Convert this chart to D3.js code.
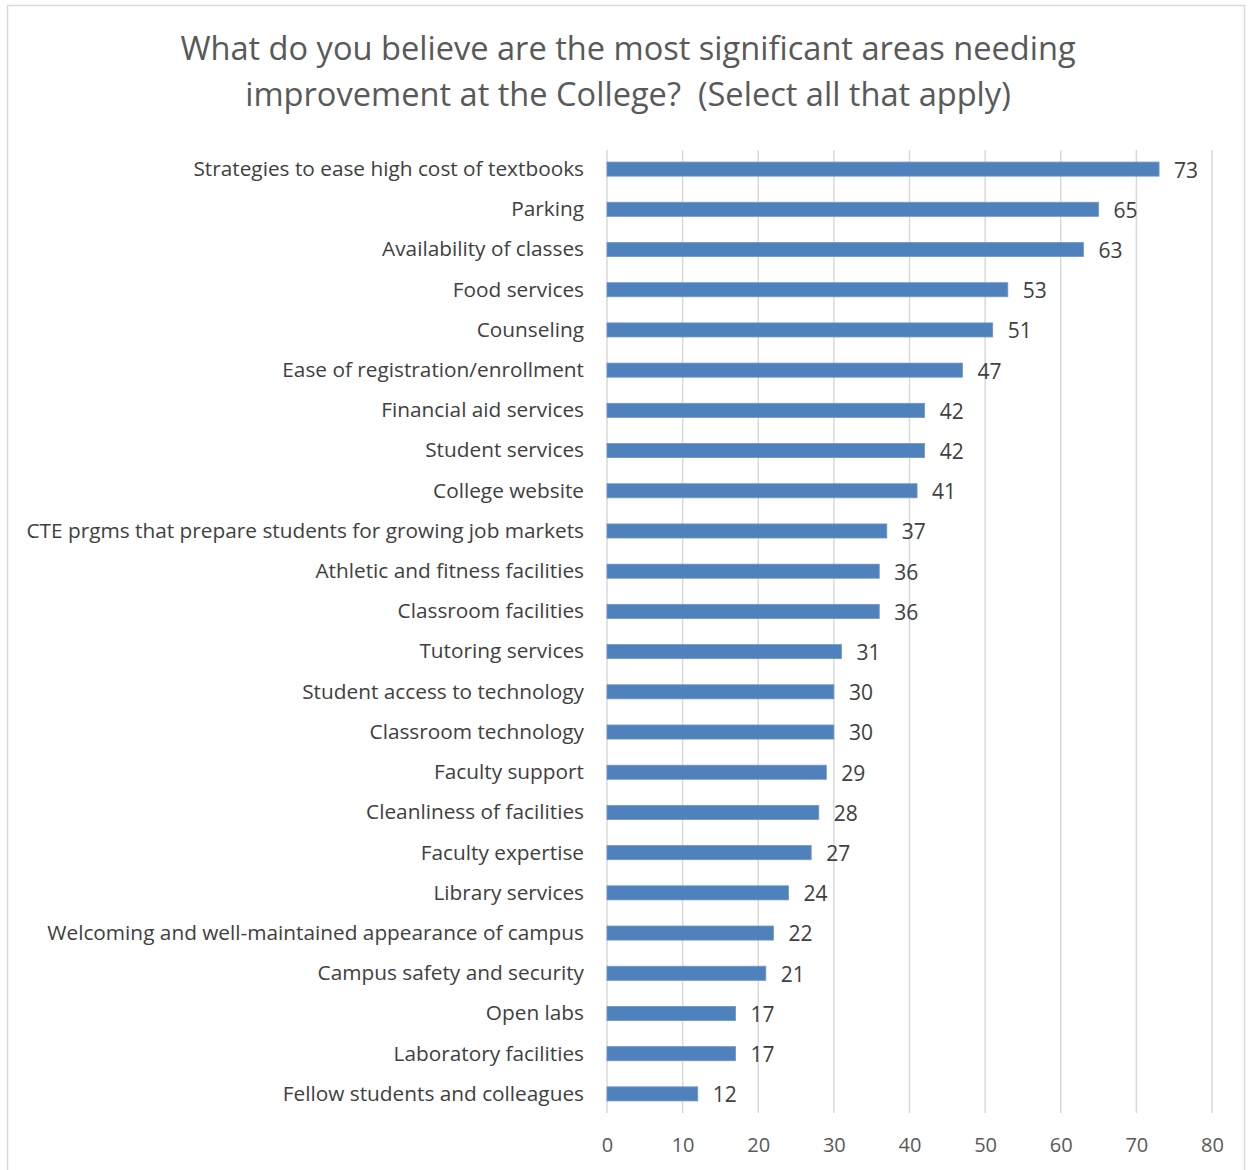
<!DOCTYPE html>
<html>
<head>
<meta charset="utf-8">
<script src="https://cdn.jsdelivr.net/npm/d3@7"></script>
<style>
  body { margin: 0; background: #fff; }
  text { font-family: "Open Sans", sans-serif; }
</style>
</head>
<body>
<svg width="1250" height="1170"></svg>
<script>
const categories = [
  "Strategies to ease high cost of textbooks",
  "Parking",
  "Availability of classes",
  "Food services",
  "Counseling",
  "Ease of registration/enrollment",
  "Financial aid services",
  "Student services",
  "College website",
  "CTE prgms that prepare students for growing job markets",
  "Athletic and fitness facilities",
  "Classroom facilities",
  "Tutoring services",
  "Student access to technology",
  "Classroom technology",
  "Faculty support",
  "Cleanliness of facilities",
  "Faculty expertise",
  "Library services",
  "Welcoming and well-maintained appearance of campus",
  "Campus safety and security",
  "Open labs",
  "Laboratory facilities",
  "Fellow students and colleagues"
];
const counts = [73, 65, 63, 53, 51, 47, 42, 42, 41, 37, 36, 36, 31, 30, 30, 29, 28, 27, 24, 22, 21, 17, 17, 12];
const tickValues = [0, 10, 20, 30, 40, 50, 60, 70, 80];
const titleLines = [
  "What do you believe are the most significant areas needing",
  "improvement at the College?  (Select all that apply)"
];

let svg = d3.select("svg");

svg.append("rect")
    .attr("x", 7.5).attr("y", 5.5)
    .attr("width", 1237).attr("height", 1170)
    .attr("fill", "#fff")
    .attr("stroke", "#d9d9d9")
    .attr("stroke-width", 1.5);

var x = d3.scaleLinear().domain([0, 80]).range([607, 1212]);
var y = d3.scaleBand()
    .domain(categories)
    .range([149, 1114])
    .paddingInner(0.65)
    .paddingOuter(0.325);

// gridlines
svg.append("g")
  .selectAll("line")
  .data(tickValues)
  .enter().append("line")
    .attr("x1", d => x(d)).attr("x2", d => x(d))
    .attr("y1", 150).attr("y2", 1113)
    .attr("stroke", "#d9d9d9")
    .attr("stroke-width", 1.5);

// title
svg.append("text")
    .attr("text-anchor", "middle")
    .attr("fill", "#595959")
    .style("font-size", "32.6px")
    .style("white-space", "pre")
  .selectAll("tspan")
  .data(titleLines)
  .enter().append("tspan")
    .attr("x", 628)
    .attr("y", (d, i) => 60 + i * 46)
    .text(d => d);

// bars
svg.append("g")
  .selectAll("rect")
  .data(counts)
  .enter().append("rect")
    .attr("x", x(0))
    .attr("y", (d, i) => y(categories[i]))
    .attr("width", d => x(d) - x(0))
    .attr("height", y.bandwidth())
    .attr("fill", "#4f81bd")
    .attr("stroke", "#6f96c9")
    .attr("stroke-width", 0.8);

// value labels
svg.append("g")
  .selectAll("text")
  .data(counts)
  .enter().append("text")
    .attr("x", d => x(d) + 15)
    .attr("y", (d, i) => y(categories[i]) + y.bandwidth() / 2)
    .attr("dy", "0.4em")
    .attr("fill", "#404040")
    .style("font-size", "21px")
    .text(d => d);

// category labels
var yAxis = svg.append("g")
    .attr("transform", "translate(" + x(0) + ",0)")
    .call(d3.axisLeft(y).tickSize(0).tickPadding(23));
yAxis.select(".domain").remove();
yAxis.selectAll("text")
    .attr("dy", "0.33em")
    .attr("fill", "#404040")
    .style("font-size", "20.8px")
    .style("font-family", "'Open Sans', sans-serif");

// x tick labels
var xAxis = svg.append("g")
    .attr("transform", "translate(0,1113)")
    .call(d3.axisBottom(x).tickValues(tickValues).tickSize(0).tickPadding(25));
xAxis.select(".domain").remove();
xAxis.selectAll("text")
    .attr("fill", "#595959")
    .style("font-size", "20px")
    .style("font-family", "'Open Sans', sans-serif");
</script>
</body>
</html>
